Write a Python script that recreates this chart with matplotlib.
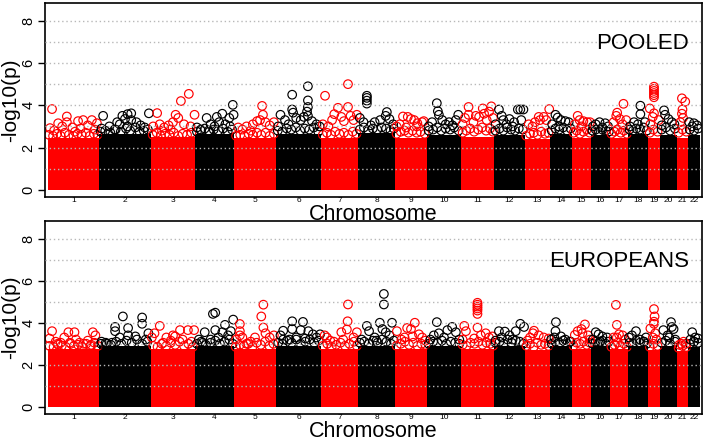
"""Manhattan plots for the pooled and European association scans."""

import matplotlib

matplotlib.use("Agg")
import matplotlib.pyplot as plt
import numpy as np

plt.rcParams["font.family"] = ["Liberation Sans", "DejaVu Sans"]

chromosomes = [str(i) for i in range(1, 23)]
# relative chromosome spans as they appear on the x axis
chrom_len = [51, 52, 44, 39, 42, 45, 37, 37, 32, 34, 33, 31, 25, 22, 19, 19, 18, 20, 12, 17, 11, 12]

# height of the dense bulk of SNPs per chromosome (-log10 p)
pooled_band = [2.45, 2.65, 2.5, 2.65, 2.45, 2.65, 2.45, 2.7, 2.45, 2.6, 2.5,
               2.6, 2.4, 2.65, 2.45, 2.6, 2.45, 2.65, 2.45, 2.6, 2.45, 2.6]
europeans_band = [2.75, 2.9, 2.75, 2.9, 2.75, 2.9, 2.75, 2.9, 2.75, 2.9, 2.75,
                  2.9, 2.7, 2.9, 2.75, 2.9, 2.75, 2.9, 2.7, 2.9, 2.65, 2.85]

# SNPs at the ragged top of the bulk: (chromosome, position within chromosome 0-1, -log10 p)
pooled_fringe = [
    (1, 0.02, 2.6), (1, 0.1, 2.55), (1, 0.18, 2.65), (1, 0.25, 2.55), (1, 0.33, 2.7), (1, 0.41, 2.6),
    (1, 0.5, 2.55), (1, 0.58, 2.65), (1, 0.66, 2.6), (1, 0.74, 2.7), (1, 0.82, 2.55), (1, 0.9, 2.65),
    (1, 0.97, 2.6),
    (2, 0.03, 2.75), (2, 0.12, 2.8), (2, 0.22, 2.7), (2, 0.32, 2.85), (2, 0.42, 2.75), (2, 0.52, 2.9),
    (2, 0.6, 2.8), (2, 0.7, 2.95), (2, 0.78, 2.75), (2, 0.86, 2.8), (2, 0.94, 2.85),
    (3, 0.04, 2.6), (3, 0.13, 2.7), (3, 0.22, 2.55), (3, 0.32, 2.65), (3, 0.42, 2.6), (3, 0.52, 2.7),
    (3, 0.62, 2.55), (3, 0.72, 2.65), (3, 0.82, 2.6), (3, 0.92, 2.7),
    (4, 0.05, 2.75), (4, 0.15, 2.8), (4, 0.25, 2.9), (4, 0.37, 2.75), (4, 0.48, 2.85), (4, 0.6, 2.8),
    (4, 0.72, 2.9), (4, 0.84, 2.75), (4, 0.95, 2.85),
    (5, 0.05, 2.55), (5, 0.15, 2.6), (5, 0.25, 2.55), (5, 0.35, 2.65), (5, 0.45, 2.6), (5, 0.55, 2.7),
    (5, 0.65, 2.6), (5, 0.75, 2.7), (5, 0.85, 2.55), (5, 0.95, 2.65),
    (6, 0.04, 2.8), (6, 0.14, 2.75), (6, 0.24, 2.9), (6, 0.34, 2.85), (6, 0.44, 2.95), (6, 0.54, 2.8),
    (6, 0.64, 2.9), (6, 0.74, 2.85), (6, 0.84, 2.95), (6, 0.94, 2.75),
    (7, 0.05, 2.6), (7, 0.16, 2.7), (7, 0.27, 2.6), (7, 0.38, 2.75), (7, 0.5, 2.65), (7, 0.62, 2.7),
    (7, 0.74, 2.6), (7, 0.86, 2.75), (7, 0.96, 2.65),
    (8, 0.05, 2.85), (8, 0.16, 2.95), (8, 0.28, 2.8), (8, 0.4, 2.9), (8, 0.52, 2.85), (8, 0.64, 2.95),
    (8, 0.76, 2.9), (8, 0.88, 2.8), (8, 0.97, 2.9),
    (9, 0.05, 2.65), (9, 0.18, 2.75), (9, 0.3, 2.8), (9, 0.42, 2.7), (9, 0.55, 2.8), (9, 0.68, 2.7),
    (9, 0.8, 2.75), (9, 0.93, 2.65),
    (10, 0.05, 2.8), (10, 0.18, 2.85), (10, 0.3, 2.95), (10, 0.42, 2.8), (10, 0.55, 2.9),
    (10, 0.68, 2.85), (10, 0.8, 2.95), (10, 0.93, 2.8),
    (11, 0.05, 2.7), (11, 0.16, 2.8), (11, 0.28, 2.9), (11, 0.4, 2.75), (11, 0.52, 2.85),
    (11, 0.64, 2.95), (11, 0.76, 2.8), (11, 0.88, 2.9), (11, 0.97, 2.75),
    (12, 0.05, 2.8), (12, 0.18, 2.9), (12, 0.3, 2.8), (12, 0.42, 2.95), (12, 0.55, 2.85),
    (12, 0.68, 2.8), (12, 0.8, 2.9), (12, 0.93, 2.85),
    (13, 0.05, 2.55), (13, 0.2, 2.65), (13, 0.35, 2.7), (13, 0.5, 2.6), (13, 0.65, 2.75),
    (13, 0.8, 2.65), (13, 0.94, 2.7),
    (14, 0.08, 2.8), (14, 0.25, 2.9), (14, 0.42, 2.85), (14, 0.6, 2.95), (14, 0.78, 2.8), (14, 0.94, 2.9),
    (15, 0.08, 2.7), (15, 0.25, 2.8), (15, 0.42, 2.65), (15, 0.6, 2.75), (15, 0.78, 2.85), (15, 0.94, 2.7),
    (16, 0.08, 2.8), (16, 0.25, 2.85), (16, 0.42, 2.75), (16, 0.6, 2.85), (16, 0.78, 2.8), (16, 0.94, 2.75),
    (17, 0.08, 2.65), (17, 0.25, 2.75), (17, 0.42, 2.85), (17, 0.6, 2.7), (17, 0.78, 2.8), (17, 0.94, 2.65),
    (18, 0.08, 2.85), (18, 0.25, 2.8), (18, 0.42, 2.9), (18, 0.6, 2.85), (18, 0.78, 2.95), (18, 0.94, 2.8),
    (19, 0.15, 2.7), (19, 0.45, 2.85), (19, 0.8, 2.75),
    (20, 0.1, 2.85), (20, 0.35, 2.95), (20, 0.6, 2.8), (20, 0.88, 2.9),
    (21, 0.15, 2.7), (21, 0.5, 2.85), (21, 0.85, 2.75),
    (22, 0.15, 2.85), (22, 0.5, 2.8), (22, 0.85, 2.9),
]

europeans_fringe = [
    (1, 0.03, 2.9), (1, 0.11, 2.85), (1, 0.19, 3.0), (1, 0.27, 2.9), (1, 0.35, 2.85), (1, 0.43, 3.05),
    (1, 0.51, 2.9), (1, 0.59, 2.95), (1, 0.67, 2.85), (1, 0.75, 3.0), (1, 0.83, 2.9), (1, 0.91, 3.05),
    (1, 0.98, 2.9),
    (2, 0.04, 3.0), (2, 0.13, 3.05), (2, 0.23, 2.95), (2, 0.33, 3.1), (2, 0.43, 3.0), (2, 0.53, 3.15),
    (2, 0.63, 3.05), (2, 0.73, 3.2), (2, 0.83, 3.0), (2, 0.93, 3.1),
    (3, 0.05, 2.9), (3, 0.15, 2.85), (3, 0.25, 3.0), (3, 0.35, 2.9), (3, 0.45, 3.05), (3, 0.55, 2.95),
    (3, 0.65, 3.1), (3, 0.75, 2.9), (3, 0.85, 3.0), (3, 0.95, 2.85),
    (4, 0.05, 3.0), (4, 0.16, 3.1), (4, 0.28, 2.95), (4, 0.4, 3.05), (4, 0.52, 3.15), (4, 0.64, 3.0),
    (4, 0.76, 3.1), (4, 0.88, 3.2), (4, 0.97, 3.0),
    (5, 0.04, 2.85), (5, 0.14, 2.95), (5, 0.24, 2.9), (5, 0.34, 3.0), (5, 0.44, 2.85), (5, 0.54, 3.05),
    (5, 0.64, 2.95), (5, 0.74, 3.1), (5, 0.84, 2.9), (5, 0.94, 3.0),
    (6, 0.05, 3.05), (6, 0.15, 3.0), (6, 0.25, 3.15), (6, 0.35, 3.05), (6, 0.45, 3.2), (6, 0.55, 3.0),
    (6, 0.65, 3.1), (6, 0.75, 3.2), (6, 0.85, 3.05), (6, 0.95, 3.15),
    (7, 0.05, 2.9), (7, 0.17, 3.0), (7, 0.29, 2.85), (7, 0.41, 2.95), (7, 0.53, 3.05), (7, 0.65, 2.9),
    (7, 0.77, 3.0), (7, 0.89, 3.1), (7, 0.97, 2.9),
    (8, 0.05, 3.05), (8, 0.17, 3.1), (8, 0.29, 3.0), (8, 0.41, 3.15), (8, 0.53, 3.05), (8, 0.65, 3.2),
    (8, 0.77, 3.1), (8, 0.89, 3.0), (8, 0.97, 3.15),
    (9, 0.05, 2.9), (9, 0.18, 3.0), (9, 0.31, 3.1), (9, 0.44, 2.95), (9, 0.57, 3.05), (9, 0.7, 2.9),
    (9, 0.83, 3.0), (9, 0.95, 2.95),
    (10, 0.05, 3.0), (10, 0.18, 3.1), (10, 0.31, 3.05), (10, 0.44, 3.15), (10, 0.57, 3.0),
    (10, 0.7, 3.1), (10, 0.83, 3.05), (10, 0.95, 3.0),
    (11, 0.05, 2.95), (11, 0.17, 2.9), (11, 0.29, 3.05), (11, 0.41, 3.0), (11, 0.53, 3.1),
    (11, 0.65, 2.95), (11, 0.77, 3.05), (11, 0.89, 3.0), (11, 0.97, 2.9),
    (12, 0.05, 3.05), (12, 0.18, 3.1), (12, 0.31, 3.0), (12, 0.44, 3.2), (12, 0.57, 3.05),
    (12, 0.7, 3.15), (12, 0.83, 3.1), (12, 0.95, 3.0),
    (13, 0.06, 2.9), (13, 0.2, 3.0), (13, 0.35, 2.85), (13, 0.5, 3.05), (13, 0.65, 2.95),
    (13, 0.8, 3.0), (13, 0.94, 2.9),
    (14, 0.08, 3.0), (14, 0.25, 3.1), (14, 0.42, 3.05), (14, 0.6, 3.15), (14, 0.78, 3.0), (14, 0.94, 3.1),
    (15, 0.08, 2.9), (15, 0.25, 3.05), (15, 0.42, 3.0), (15, 0.6, 3.1), (15, 0.78, 2.95), (15, 0.94, 3.05),
    (16, 0.08, 3.0), (16, 0.25, 3.1), (16, 0.42, 3.05), (16, 0.6, 3.15), (16, 0.78, 3.0), (16, 0.94, 3.1),
    (17, 0.08, 2.85), (17, 0.25, 2.95), (17, 0.42, 3.05), (17, 0.6, 2.9), (17, 0.78, 3.0), (17, 0.94, 2.85),
    (18, 0.08, 3.05), (18, 0.25, 3.0), (18, 0.42, 3.15), (18, 0.6, 3.05), (18, 0.78, 3.1), (18, 0.94, 3.0),
    (19, 0.15, 2.85), (19, 0.45, 3.0), (19, 0.8, 2.9),
    (20, 0.1, 3.05), (20, 0.35, 3.15), (20, 0.6, 3.0), (20, 0.88, 3.1),
    (21, 0.15, 2.8), (21, 0.5, 2.9), (21, 0.85, 2.85),
    (22, 0.15, 3.0), (22, 0.5, 3.1), (22, 0.85, 3.05),
]

# individual SNPs standing out above the bulk
pooled_hits = [
    (1, 0.08, 3.82), (1, 0.37, 3.47), (1, 0.04, 2.92), (1, 0.2, 3.15), (1, 0.37, 3.2),
    (1, 0.59, 3.25), (1, 0.69, 3.3), (1, 0.86, 3.3), (1, 0.96, 3.15), (1, 0.12, 2.8),
    (1, 0.28, 3.0), (1, 0.48, 2.95), (1, 0.64, 2.9), (1, 0.78, 3.05), (1, 0.92, 2.85), (1, 0.53, 2.75),
    (2, 0.08, 3.5), (2, 0.45, 3.5), (2, 0.55, 3.58), (2, 0.62, 3.62), (2, 0.96, 3.62),
    (2, 0.05, 2.9), (2, 0.2, 3.0), (2, 0.3, 2.85), (2, 0.4, 3.1), (2, 0.5, 3.35), (2, 0.62, 3.3),
    (2, 0.72, 3.2), (2, 0.8, 3.05), (2, 0.88, 2.95), (2, 0.55, 3.0), (2, 0.35, 3.2),
    (3, 0.14, 3.63), (3, 0.68, 4.2), (3, 0.86, 4.54), (3, 0.56, 3.55), (3, 0.99, 3.55),
    (3, 0.05, 3.0), (3, 0.2, 3.1), (3, 0.3, 2.95), (3, 0.4, 3.05), (3, 0.5, 3.2), (3, 0.62, 3.4),
    (3, 0.75, 3.1), (3, 0.9, 3.0), (3, 0.25, 2.8), (3, 0.45, 2.85),
    (4, 0.3, 3.4), (4, 0.56, 3.45), (4, 0.7, 3.6), (4, 0.88, 3.4), (4, 0.97, 4.02), (4, 0.99, 3.55),
    (4, 0.05, 2.95), (4, 0.15, 2.85), (4, 0.4, 3.1), (4, 0.5, 3.0), (4, 0.62, 3.2), (4, 0.78, 3.1),
    (4, 0.9, 3.0), (4, 0.35, 2.8),
    (5, 0.67, 3.97), (5, 0.69, 3.55), (5, 0.1, 2.95), (5, 0.2, 2.85), (5, 0.3, 3.0), (5, 0.45, 3.1),
    (5, 0.55, 3.25), (5, 0.62, 3.3), (5, 0.75, 3.2), (5, 0.85, 3.05), (5, 0.95, 3.2), (5, 0.4, 2.8),
    (6, 0.36, 4.5), (6, 0.71, 4.9), (6, 0.71, 4.23), (6, 0.36, 3.8), (6, 0.38, 3.65), (6, 0.71, 3.92),
    (6, 0.69, 3.7), (6, 0.71, 3.5), (6, 0.1, 3.55), (6, 0.05, 3.0), (6, 0.2, 3.3), (6, 0.28, 3.1),
    (6, 0.45, 3.4), (6, 0.55, 3.3), (6, 0.62, 3.45), (6, 0.8, 3.25), (6, 0.9, 3.1), (6, 0.97, 3.0),
    (7, 0.11, 4.45), (7, 0.73, 5.0), (7, 0.46, 3.88), (7, 0.73, 3.92), (7, 0.36, 3.58), (7, 0.97, 3.55),
    (7, 0.8, 3.5), (7, 0.05, 3.1), (7, 0.2, 3.0), (7, 0.3, 3.3), (7, 0.55, 3.45), (7, 0.62, 3.25),
    (7, 0.88, 3.3),
    (8, 0.24, 4.45), (8, 0.24, 4.35), (8, 0.24, 4.22), (8, 0.24, 4.08), (8, 0.78, 3.68), (8, 0.75, 3.5),
    (8, 0.05, 3.4), (8, 0.15, 3.2), (8, 0.35, 3.05), (8, 0.45, 3.2), (8, 0.6, 3.3), (8, 0.85, 3.35),
    (8, 0.95, 3.1),
    (9, 0.25, 3.47), (9, 0.4, 3.45), (9, 0.5, 3.35), (9, 0.6, 3.3), (9, 0.85, 3.2), (9, 0.9, 3.25),
    (9, 0.05, 3.0), (9, 0.15, 3.1), (9, 0.7, 3.15), (9, 0.68, 3.0), (9, 0.35, 2.95),
    (10, 0.29, 4.1), (10, 0.32, 3.72), (10, 0.35, 3.55), (10, 0.92, 3.55), (10, 0.85, 3.3),
    (10, 0.05, 3.0), (10, 0.15, 3.2), (10, 0.45, 3.3), (10, 0.55, 3.1), (10, 0.65, 3.2), (10, 0.75, 3.05),
    (11, 0.23, 3.92), (11, 0.92, 3.95), (11, 0.66, 3.85), (11, 0.7, 3.6), (11, 0.23, 3.55),
    (11, 0.12, 3.4), (11, 0.45, 3.5), (11, 0.55, 3.45), (11, 0.85, 3.7), (11, 0.05, 3.1),
    (11, 0.38, 3.2), (11, 0.78, 3.3), (11, 0.97, 3.4),
    (12, 0.16, 3.8), (12, 0.77, 3.8), (12, 0.85, 3.8), (12, 0.95, 3.8), (12, 0.3, 3.3), (12, 0.5, 3.35),
    (12, 0.65, 3.2), (12, 0.05, 3.1), (12, 0.4, 3.1), (12, 0.6, 3.0), (12, 0.88, 3.3), (12, 0.25, 3.5),
    (13, 0.97, 3.82), (13, 0.55, 3.45), (13, 0.75, 3.45), (13, 0.4, 3.2), (13, 0.15, 3.1),
    (13, 0.6, 3.3), (13, 0.85, 3.3), (13, 0.3, 3.0),
    (14, 0.25, 3.55), (14, 0.35, 3.42), (14, 0.5, 3.3), (14, 0.85, 3.2), (14, 0.1, 3.1),
    (14, 0.7, 3.25), (14, 0.4, 3.0),
    (15, 0.3, 3.5), (15, 0.8, 3.2), (15, 0.95, 3.2), (15, 0.6, 3.25), (15, 0.15, 3.1),
    (15, 0.4, 3.3), (15, 0.5, 3.0),
    (16, 0.45, 3.2), (16, 0.25, 3.1), (16, 0.75, 3.15), (16, 0.9, 3.0), (16, 0.1, 3.0), (16, 0.6, 2.95),
    (17, 0.75, 4.07), (17, 0.35, 3.5), (17, 0.9, 3.3), (17, 0.4, 3.65), (17, 0.55, 3.35),
    (17, 0.2, 3.2), (17, 0.7, 3.1),
    (18, 0.62, 3.98), (18, 0.62, 3.58), (18, 0.3, 3.2), (18, 0.5, 3.1), (18, 0.85, 3.2), (18, 0.1, 3.0),
    (19, 0.5, 4.88), (19, 0.5, 4.78), (19, 0.5, 4.68), (19, 0.5, 4.58), (19, 0.5, 4.48), (19, 0.5, 4.38),
    (19, 0.15, 3.85), (19, 0.5, 3.62), (19, 0.4, 3.45), (19, 0.9, 3.3), (19, 0.2, 3.1),
    (20, 0.24, 3.76), (20, 0.3, 3.55), (20, 0.5, 3.35), (20, 0.7, 3.2), (20, 0.85, 3.1), (20, 0.1, 3.05),
    (21, 0.45, 4.33), (21, 0.75, 4.17), (21, 0.5, 3.8), (21, 0.45, 3.6), (21, 0.55, 3.4), (21, 0.3, 3.2),
    (22, 0.1, 3.2), (22, 0.5, 3.15), (22, 0.75, 3.05), (22, 0.35, 3.0),
]

europeans_hits = [
    (1, 0.08, 3.6), (1, 0.4, 3.55), (1, 0.52, 3.55), (1, 0.88, 3.55), (1, 0.03, 3.25),
    (1, 0.15, 3.1), (1, 0.25, 3.05), (1, 0.32, 3.3), (1, 0.55, 3.2), (1, 0.62, 3.05),
    (1, 0.7, 3.0), (1, 0.78, 3.15), (1, 0.93, 3.4), (1, 0.2, 2.95), (1, 0.45, 3.0), (1, 0.85, 2.95),
    (2, 0.46, 4.3), (2, 0.83, 4.25), (2, 0.83, 3.95), (2, 0.31, 3.8), (2, 0.31, 3.6), (2, 0.56, 3.75),
    (2, 0.56, 3.4), (2, 0.05, 3.1), (2, 0.15, 3.0), (2, 0.4, 3.3), (2, 0.7, 3.35), (2, 0.9, 3.2),
    (2, 0.95, 3.5), (2, 0.25, 3.05),
    (3, 0.2, 3.85), (3, 0.08, 3.5), (3, 0.66, 3.65), (3, 0.84, 3.65), (3, 0.98, 3.65), (3, 0.55, 3.35),
    (3, 0.35, 3.3), (3, 0.45, 3.15), (3, 0.5, 3.4), (3, 0.02, 3.3), (3, 0.72, 3.2), (3, 0.92, 3.1),
    (3, 0.28, 3.05),
    (4, 0.46, 4.42), (4, 0.52, 4.48), (4, 0.77, 3.9), (4, 0.98, 4.15), (4, 0.52, 3.65), (4, 0.25, 3.55),
    (4, 0.6, 3.3), (4, 0.7, 3.55), (4, 0.85, 3.4), (4, 0.1, 3.2), (4, 0.2, 3.05), (4, 0.4, 3.2),
    (4, 0.92, 3.6),
    (5, 0.14, 3.94), (5, 0.7, 4.86), (5, 0.65, 4.3), (5, 0.7, 3.77), (5, 0.14, 3.6), (5, 0.14, 3.4),
    (5, 0.2, 3.3), (5, 0.4, 3.1), (5, 0.5, 3.3), (5, 0.75, 3.5), (5, 0.85, 3.3), (5, 0.95, 3.4),
    (5, 0.3, 3.0), (5, 0.05, 3.2),
    (6, 0.36, 4.07), (6, 0.6, 4.04), (6, 0.36, 3.7), (6, 0.55, 3.65), (6, 0.16, 3.62), (6, 0.16, 3.2),
    (6, 0.1, 3.4), (6, 0.45, 3.3), (6, 0.72, 3.6), (6, 0.82, 3.45), (6, 0.9, 3.3), (6, 0.98, 3.45),
    (6, 0.3, 3.2), (6, 0.65, 3.25),
    (7, 0.73, 4.87), (7, 0.72, 4.07), (7, 0.7, 3.68), (7, 0.55, 3.55), (7, 0.16, 3.3), (7, 0.1, 3.4),
    (7, 0.25, 3.15), (7, 0.97, 3.55), (7, 0.88, 3.3), (7, 0.35, 3.1), (7, 0.6, 3.2),
    (8, 0.7, 5.37), (8, 0.7, 4.87), (8, 0.24, 3.85), (8, 0.59, 4.0), (8, 0.92, 4.0), (8, 0.3, 3.6),
    (8, 0.66, 3.7), (8, 0.75, 3.55), (8, 0.1, 3.2), (8, 0.45, 3.3), (8, 0.85, 3.4), (8, 0.5, 3.15),
    (9, 0.62, 4.0), (9, 0.06, 3.6), (9, 0.38, 3.75), (9, 0.5, 3.7), (9, 0.75, 3.45), (9, 0.3, 3.3),
    (9, 0.2, 3.2), (9, 0.85, 3.3), (9, 0.95, 3.15), (9, 0.55, 3.35),
    (10, 0.29, 4.03), (10, 0.6, 3.65), (10, 0.35, 3.5), (10, 0.74, 3.8), (10, 0.85, 3.55),
    (10, 0.1, 3.2), (10, 0.5, 3.3), (10, 0.2, 3.4), (10, 0.95, 3.2),
    (11, 0.5, 4.95), (11, 0.5, 4.86), (11, 0.5, 4.77), (11, 0.5, 4.68), (11, 0.5, 4.58), (11, 0.5, 4.42),
    (11, 0.1, 3.85), (11, 0.5, 3.77), (11, 0.15, 3.6), (11, 0.6, 3.4), (11, 0.75, 3.5), (11, 0.85, 3.3),
    (11, 0.05, 3.2), (11, 0.4, 3.25), (11, 0.95, 3.35),
    (12, 0.16, 3.6), (12, 0.85, 3.95), (12, 0.97, 3.8), (12, 0.35, 3.58), (12, 0.7, 3.6),
    (12, 0.5, 3.4), (12, 0.25, 3.3), (12, 0.6, 3.2), (12, 0.05, 3.15),
    (13, 0.36, 3.62), (13, 0.32, 3.5), (13, 0.2, 3.3), (13, 0.55, 3.4), (13, 0.95, 3.25),
    (13, 0.75, 3.3), (13, 0.1, 3.15),
    (14, 0.27, 4.03), (14, 0.25, 3.6), (14, 0.2, 3.3), (14, 0.5, 3.35), (14, 0.7, 3.2),
    (14, 0.05, 3.2), (14, 0.9, 3.1),
    (15, 0.68, 3.92), (15, 0.3, 3.6), (15, 0.15, 3.42), (15, 0.5, 3.7), (15, 0.55, 3.5),
    (15, 0.85, 3.4), (15, 0.95, 3.2),
    (16, 0.25, 3.55), (16, 0.4, 3.45), (16, 0.6, 3.35), (16, 0.85, 3.3), (16, 0.1, 3.2), (16, 0.5, 3.1),
    (17, 0.33, 4.85), (17, 0.38, 3.9), (17, 0.38, 3.3), (17, 0.5, 3.45), (17, 0.7, 3.4),
    (17, 0.2, 3.3), (17, 0.85, 3.2),
    (18, 0.4, 3.6), (18, 0.05, 3.3), (18, 0.6, 3.2), (18, 0.8, 3.1), (18, 0.2, 3.4), (18, 0.9, 3.3),
    (19, 0.5, 4.65), (19, 0.55, 4.3), (19, 0.5, 4.05), (19, 0.5, 3.95), (19, 0.2, 3.73),
    (19, 0.6, 3.5), (19, 0.4, 3.3), (19, 0.7, 3.2),
    (20, 0.65, 4.03), (20, 0.7, 3.8), (20, 0.2, 3.65), (20, 0.8, 3.7), (20, 0.45, 3.4),
    (20, 0.55, 3.3), (20, 0.9, 3.2),
    (21, 0.4, 3.0), (21, 0.6, 3.1), (21, 0.2, 2.95), (21, 0.8, 3.0),
    (22, 0.35, 3.55), (22, 0.6, 3.3), (22, 0.85, 3.25), (22, 0.2, 3.2), (22, 0.5, 3.1),
]

panel_titles = ["POOLED", "EUROPEANS"]
y_ticks = [0, 2, 4, 6, 8]


def draw_manhattan(ax, band, points, title):
    """Draw one Manhattan panel: dense bulk as blocks, other SNPs as open circles."""
    lens = np.array(chrom_len, dtype=float)
    starts = np.concatenate([[0.0], np.cumsum(lens)[:-1]])
    colors = ["#ff0000" if i % 2 == 0 else "black" for i in range(len(lens))]

    ax.bar(starts, band, width=lens, align="edge", color=colors, linewidth=0, zorder=1)

    arr = np.array(points, dtype=float)
    idx = arr[:, 0].astype(int) - 1
    xs = starts[idx] + arr[:, 1] * lens[idx]
    ax.scatter(xs, arr[:, 2], s=38, facecolors="none",
               edgecolors=[colors[i] for i in idx], linewidths=0.85, zorder=2)

    # dotted guide lines on top of the points
    for yv in range(1, 9):
        ax.axhline(yv, color="#b8b8b8", lw=1.0, ls=(0, (1, 2)), zorder=3)

    ax.set_xlim(-3, lens.sum() + 2)
    ax.set_ylim(-0.34, 8.84)

    ax.set_xticks(starts + lens / 2)
    ax.set_xticklabels(chromosomes)
    ax.tick_params(axis="x", length=0, pad=0.3, labelsize=6)

    ax.set_yticks(y_ticks)
    ax.set_yticklabels([str(t) for t in y_ticks], rotation=90, va="center")
    ax.tick_params(axis="y", length=5, width=1, pad=2, labelsize=10.5)

    for sp in ax.spines.values():
        sp.set_linewidth(1.2)

    ax.set_xlabel("Chromosome", fontsize=15.5, labelpad=-0.4)
    ax.set_ylabel("-log10(p)", fontsize=15, labelpad=1)
    ax.text(lens.sum() - 11, 6.65, title, ha="right", va="baseline", fontsize=16)


fig = plt.figure(figsize=(7.06, 4.41), dpi=100)
ax_top = fig.add_axes([0.0637, 0.5533, 0.9306, 0.4399])
ax_bot = fig.add_axes([0.0637, 0.0612, 0.9306, 0.4377])

draw_manhattan(ax_top, pooled_band, pooled_fringe + pooled_hits, panel_titles[0])
draw_manhattan(ax_bot, europeans_band, europeans_fringe + europeans_hits, panel_titles[1])

fig.savefig("out.png", dpi=100)
